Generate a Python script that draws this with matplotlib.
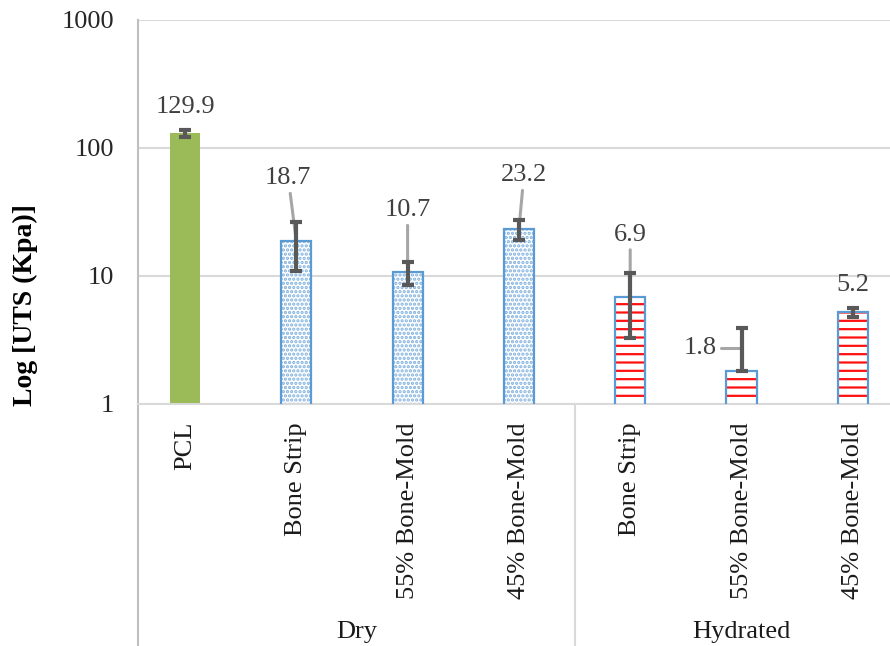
import numpy as np
import matplotlib
matplotlib.use("Agg")
import matplotlib.pyplot as plt
import matplotlib.transforms as mtransforms

plt.rcParams['font.family'] = ['Liberation Serif', 'DejaVu Serif']
plt.rcParams['hatch.linewidth'] = 1.6

# data
categories = ['PCL', 'Bone Strip', '55% Bone-Mold', '45% Bone-Mold',
              'Bone Strip', '55% Bone-Mold', '45% Bone-Mold']
groups = ['Dry', 'Hydrated']
uts = [129.9, 18.7, 10.7, 23.2, 6.9, 1.8, 5.2]
err_low = [9.0, 7.7, 2.2, 4.0, 3.6, 0.0, 0.45]
err_high = [9.0, 7.7, 2.2, 4.0, 3.6, 2.1, 0.45]
yticks = [1, 10, 100, 1000]

# label placement (pixels from bar top) and leader line style
label_offsets = [(0, 26), (-8, 63), (0, 62), (5, 54), (0, 62), (-41, 23), (0, 27)]
leaders = [None, 'arc3', 'arc3', 'arc3', 'arc3', 'angle,angleA=0,angleB=90,rad=0', None]

fig = plt.figure(figsize=(8.9, 6.46), dpi=100)
ax = fig.add_axes([138 / 890, 1 - 404 / 646, 752 / 890, 384 / 646])

x = np.arange(len(categories))
w = 0.27
blue = '#5b9bd5'

# bars
ax.bar(x[0], uts[0], w, color='#9bbb59', zorder=2)
ax.bar(x[1:4], uts[1:4], w, facecolor='white', edgecolor='#7fb0de', hatch='....',
       linewidth=0, zorder=2)
ax.bar(x[4:7], uts[4:7], w, facecolor='white', edgecolor='#ff1010', hatch='--',
       linewidth=0, zorder=2)
ax.bar(x[1:], uts[1:], w, fill=False, edgecolor=blue, linewidth=1.6, zorder=3)

# leader lines + value labels
for i, v in enumerate(uts):
    props = None
    if leaders[i]:
        props = dict(arrowstyle='-', color='#a6a6a6', lw=2.2, shrinkA=1, shrinkB=0,
                     connectionstyle=leaders[i])
    ax.annotate(f'{v:.1f}', xy=(x[i], v), xytext=label_offsets[i],
                textcoords='offset pixels', ha='center', va='center',
                fontsize=19, color='#404040', arrowprops=props, zorder=4,
                annotation_clip=False)

# error bars
ax.errorbar(x, uts, yerr=[err_low, err_high], fmt='none', ecolor='#595959',
            elinewidth=3, capsize=4.5, capthick=3, zorder=5)

ax.set_yscale('log')
ax.set_ylim(1, 1000)
ax.set_xlim((138 - 185) / 111.3, (890 - 185) / 111.3)
ax.set_yticks(yticks)
ax.set_yticklabels([str(t) for t in yticks])
ax.yaxis.set_minor_locator(matplotlib.ticker.NullLocator())
ax.tick_params(axis='y', length=0, pad=17, labelsize=19, labelcolor='#262626')
ax.set_xticks(x)
ax.set_xticklabels(categories, rotation=90, fontsize=19, color='#1a1a1a')
ax.tick_params(axis='x', length=0, pad=13)

ax.grid(axis='y', color='#d9d9d9', lw=1.5, zorder=0)
ax.set_axisbelow(True)
for s in ['top', 'right']:
    ax.spines[s].set_visible(False)
ax.spines['bottom'].set_color('#d9d9d9')
ax.spines['bottom'].set_linewidth(1.5)
ax.spines['left'].set_color('#bfbfbf')
ax.spines['left'].set_linewidth(1.5)

# multi-level category axis lines and group labels
trans = mtransforms.blended_transform_factory(ax.transData, ax.transAxes)
bottom = -(646 - 404) / 384
ax.plot([ax.get_xlim()[0]] * 2, [0, bottom], transform=trans, color='#bfbfbf',
        lw=1.5, clip_on=False)
ax.plot([3.5, 3.5], [0, bottom], transform=trans, color='#d9d9d9', lw=1.5,
        clip_on=False)
edges = [ax.get_xlim()[0], 3.5, 6.5]
for g, name in enumerate(groups):
    cx = (edges[g] + edges[g + 1]) / 2
    ax.text(cx, -(632 - 404) / 384, name, transform=trans, ha='center',
            va='center', fontsize=19, color='#1a1a1a')

fig.text(25 / 890, 1 - 305 / 646, 'Log [UTS (Kpa)]', rotation=90, ha='center',
         va='center', fontsize=20, fontweight='bold', color='#000000')

fig.savefig('out.png', dpi=100)
